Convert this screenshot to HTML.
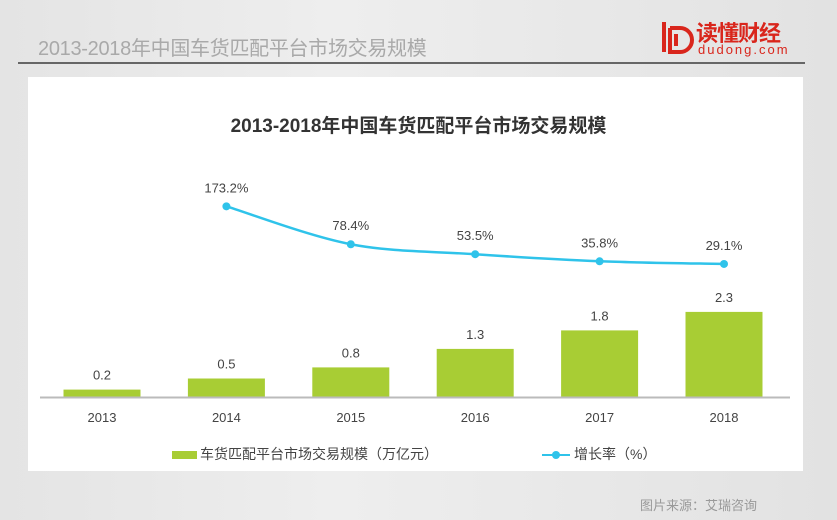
<!DOCTYPE html>
<html><head><meta charset="utf-8"><style>
body{margin:0;width:837px;height:520px;overflow:hidden;background:linear-gradient(90deg,#e4e4e4,#eeeeee 40%,#e8e8e8 70%,#e2e2e2);font-family:"Liberation Sans","Noto Sans CJK SC",sans-serif;position:relative}
.abs{position:absolute}
</style></head><body>
<div class="abs" style="left:38px;top:32px;font-size:20px;color:#a9a9a9;letter-spacing:-0.3px">2013-2018年中国车货匹配平台市场交易规模</div>
<div class="abs" style="left:18px;top:62px;width:787px;height:2px;background:#666"></div>
<div class="abs" style="left:660px;top:14px;width:150px;height:46px">
<svg width="40" height="46" style="position:absolute;left:0;top:0"><path d="M4 8v30M10 14h10a12 12 0 0 1 0 24h-10v-24M16 20v12" fill="none" stroke="#d9261c" stroke-width="4"/></svg>
<div style="position:absolute;left:36px;top:2px;font-size:22px;font-weight:bold;color:#d9261c;letter-spacing:-1px">读懂财经</div>
<div style="position:absolute;left:38px;top:28px;font-size:13px;color:#d9261c;letter-spacing:2px">dudong.com</div>
</div>
<div class="abs" style="left:28px;top:77px;width:775px;height:394px;background:#fff"></div>
<div class="abs" style="left:0;width:837px;top:111px;text-align:center;font-size:19px;font-weight:bold;color:#333">2013-2018年中国车货匹配平台市场交易规模</div>
<svg class="abs" style="left:0;top:0" width="837" height="520" id="chart"></svg>
<div class="abs" style="left:172px;top:444px;font-size:14px;color:#444"><span style="display:inline-block;width:25px;height:8px;background:#a8cd34;vertical-align:middle;margin-right:3px"></span>车货匹配平台市场交易规模（万亿元）</div>
<div class="abs" style="left:542px;top:444px;font-size:14px;color:#444"><span style="display:inline-block;position:relative;width:28px;height:2px;background:#2fc3ea;vertical-align:middle;margin-right:4px"><span style="position:absolute;left:10px;top:-3px;width:8px;height:8px;border-radius:50%;background:#2fc3ea"></span></span>增长率（%）</div>
<div class="abs" style="left:640px;top:495px;font-size:13px;color:#999">图片来源：艾瑞咨询</div>
<script>
const years=["2013","2014","2015","2016","2017","2018"];
const scale=[0.2,0.5,0.8,1.3,1.8,2.3];
const growth=[null,173.2,78.4,53.5,35.8,29.1];
const svg=document.getElementById('chart');const NS="http://www.w3.org/2000/svg";
const x=i=>102+i*124.4, yb=v=>397-v*37, yl=v=>275.6-v*0.4;
function mk(t,a){const e=document.createElementNS(NS,t);for(const k in a)e.setAttribute(k,a[k]);svg.appendChild(e);return e;}
years.forEach((yr,i)=>{
 const r=mk('rect',{x:x(i)-38.5,y:yb(scale[i]),width:77,height:397-yb(scale[i]),fill:'#a8cd34'});
 
 
 const t=mk('text',{x:x(i),y:yb(scale[i])-10,'text-anchor':'middle','font-size':13,fill:'#444'});t.textContent=scale[i];
 
 
 const l=mk('text',{x:x(i),y:422,'text-anchor':'middle','font-size':13,fill:'#444'});l.textContent=yr;
 
 
});
const ax=mk('line',{x1:40,x2:790,y1:397.5,y2:397.5,stroke:'#bbb','stroke-width':2});


const pts=[];growth.forEach((g,i)=>{if(g!=null)pts.push([x(i),yl(g),g,years[i]]);});
let d='M'+pts[0][0]+','+pts[0][1];
for(let i=0;i<pts.length-1;i++){const p0=pts[Math.max(0,i-1)],p1=pts[i],p2=pts[i+1],p3=pts[Math.min(pts.length-1,i+2)];
 d+=` C${p1[0]+(p2[0]-p0[0])/6},${p1[1]+(p2[1]-p0[1])/6} ${p2[0]-(p3[0]-p1[0])/6},${p2[1]-(p3[1]-p1[1])/6} ${p2[0]},${p2[1]}`;}
const ln=mk('path',{d:d,fill:'none',stroke:'#2fc3ea','stroke-width':2.5});


pts.forEach(p=>{
 const c=mk('circle',{cx:p[0],cy:p[1],r:4,fill:'#2fc3ea'});
 
 
 const t=mk('text',{x:p[0],y:p[1]-14,'text-anchor':'middle','font-size':13,fill:'#444'});t.textContent=p[2]+'%';
 
 
});
</script>
</body></html>
